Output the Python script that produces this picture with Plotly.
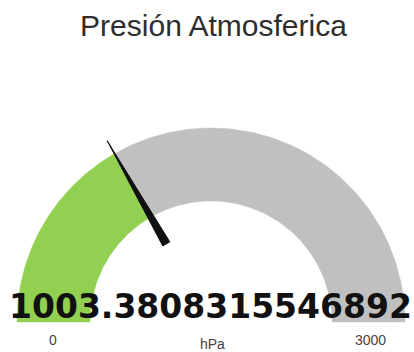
import numpy as np
import plotly.graph_objects as go

# Gauge content
title_text = "Presión Atmosferica"
gauge_min = 0
gauge_max = 3000
value = 1003.3808315546892
unit_label = "hPa"

# Styling
level_color = "#91d050"
track_color = "#c0c0c0"
needle_color = "#111111"
hole = 0.624            # inner radius as a fraction of the outer radius
needle_base = 0.464     # needle start radius (fraction of outer radius)
needle_tip = 1.077      # needle tip radius
needle_half = 0.021     # half-width of needle base, in gauge units

W, H = 414, 352
cx, cy, R = 211, 322, 194   # gauge centre and outer radius in pixels


def frac(v):
    return (v - gauge_min) / (gauge_max - gauge_min)


def band(f0, f1, r0, r1, n=120):
    """Polygon of an annular band between fractions f0..f1 of the half circle."""
    t = np.pi * np.linspace(f0, f1, n)
    x = np.concatenate([-r1 * np.cos(t), -r0 * np.cos(t[::-1])])
    y = np.concatenate([r1 * np.sin(t), r0 * np.sin(t[::-1])])
    return np.append(x, x[0]), np.append(y, y[0])


f = frac(value)

fig = go.Figure()

for f0, f1, col in [(0, f, level_color), (f, 1, track_color)]:
    bx, by = band(f0, f1, hole, 1.0)
    fig.add_trace(go.Scatter(
        x=bx, y=by, mode="lines", fill="toself", fillcolor=col,
        line=dict(color=col, width=0.5), hoverinfo="skip",
    ))

# needle: thin triangle along the value direction
a = np.pi * f
d = np.array([-np.cos(a), np.sin(a)])
p = np.array([np.sin(a), np.cos(a)])   # perpendicular
base_c = needle_base * d
pts = np.array([base_c + needle_half * p, needle_tip * d, base_c - needle_half * p,
                base_c + needle_half * p])
fig.add_trace(go.Scatter(
    x=pts[:, 0], y=pts[:, 1], mode="lines", fill="toself",
    fillcolor=needle_color, line=dict(color=needle_color, width=1),
    hoverinfo="skip",
))

fig.update_layout(
    width=W, height=H,
    margin=dict(l=0, r=0, t=0, b=0),
    paper_bgcolor="white",
    plot_bgcolor="white",
    showlegend=False,
    xaxis=dict(visible=False, range=[(0 - cx) / R, (W - cx) / R], domain=[0, 1],
               fixedrange=True),
    yaxis=dict(visible=False, range=[(cy - H) / R, cy / R], domain=[0, 1],
               fixedrange=True),
    title=dict(
        text=title_text, x=213.5 / W, xanchor="center",
        y=(H - 25) / H, yanchor="middle", yref="paper", xref="paper",
        font=dict(family="Liberation Sans, Arial, sans-serif", size=30, color="#2e2e2e"),
    ),
)


def label(text, x, y, size, color, family="Liberation Sans, Arial, sans-serif"):
    fig.add_annotation(
        text=text, x=x / W, y=(H - y) / H, xref="paper", yref="paper",
        xanchor="center", yanchor="middle", showarrow=False,
        font=dict(family=family, size=size, color=color),
    )


label(f"<b>{value}</b>", 210, 306, 33, "#111111", family="DejaVu Sans, sans-serif")
label(str(gauge_min), 53, 340, 14, "#444444")
label(unit_label, 212, 344, 14, "#444444")
label(str(gauge_max), 370, 340, 14, "#444444")

fig.write_html("out.html")
